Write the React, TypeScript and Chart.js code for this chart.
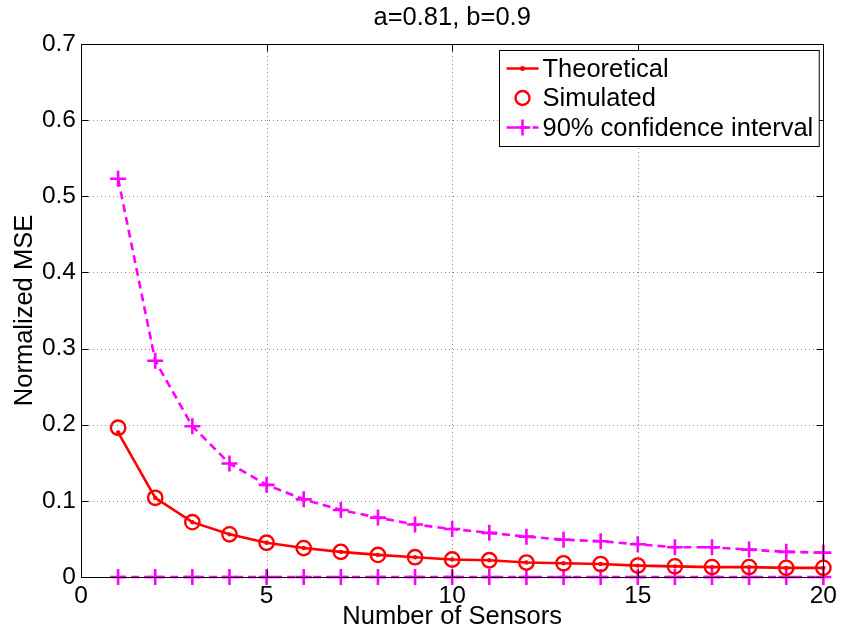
import { useEffect, useRef } from 'react';
import { Chart, registerables } from 'chart.js';

Chart.register(...registerables);

const sensors = [1, 2, 3, 4, 5, 6, 7, 8, 9, 10, 11, 12, 13, 14, 15, 16, 17, 18, 19, 20];
const theoretical = [0.190, 0.104, 0.072, 0.056, 0.045, 0.038, 0.033, 0.029, 0.026, 0.023, 0.022, 0.019, 0.018, 0.017, 0.015, 0.014, 0.013, 0.013, 0.012, 0.012];
const simulated = [0.196, 0.104, 0.072, 0.056, 0.045, 0.038, 0.033, 0.029, 0.026, 0.023, 0.022, 0.019, 0.018, 0.017, 0.015, 0.014, 0.013, 0.013, 0.012, 0.012];
const ciUpper = [0.523, 0.284, 0.198, 0.149, 0.121, 0.102, 0.088, 0.078, 0.069, 0.063, 0.058, 0.053, 0.049, 0.047, 0.043, 0.039, 0.039, 0.036, 0.033, 0.032];
const ciLower = [0, 0, 0, 0, 0, 0, 0, 0, 0, 0, 0, 0, 0, 0, 0, 0, 0, 0, 0, 0];

const xTicks = [0, 5, 10, 15, 20];
const yTicks = [0, 0.1, 0.2, 0.3, 0.4, 0.5, 0.6, 0.7];

const titleText = 'a=0.81, b=0.9';
const xLabel = 'Number of Sensors';
const yLabel = 'Normalized MSE';
const legendLabels = ['Theoretical', 'Simulated', '90% confidence interval'];

const RED = '#ff0000';
const MAGENTA = '#ff00ff';
const FONT_FAMILY = '"Liberation Sans", Arial, Helvetica, sans-serif';
const FS_TICK = 24.5;
const FS = 25.5;

const toPts = (ys: number[]) => sensors.map((x, i) => ({ x, y: ys[i] }));

const drawPlus = (ctx: CanvasRenderingContext2D, x: number, y: number, r: number) => {
  ctx.beginPath();
  ctx.moveTo(x - r, y);
  ctx.lineTo(x + r, y);
  ctx.moveTo(x, y - r);
  ctx.lineTo(x, y + r);
  ctx.stroke();
};

const matlabPlugin = {
  id: 'matlabAxes',
  beforeDatasetsDraw(chart: any) {
    const { ctx, chartArea: a, scales } = chart;
    ctx.save();
    ctx.strokeStyle = '#8c8c8c';
    ctx.lineWidth = 1;
    ctx.setLineDash([1, 3]);
    xTicks.forEach((v) => {
      const px = Math.round(scales.x.getPixelForValue(v)) + 0.5;
      if (px <= a.left + 1 || px >= a.right - 1) return;
      ctx.beginPath();
      ctx.moveTo(px, a.top);
      ctx.lineTo(px, a.bottom);
      ctx.stroke();
    });
    yTicks.forEach((v) => {
      const py = Math.round(scales.y.getPixelForValue(v)) + 0.5;
      if (py <= a.top + 1 || py >= a.bottom - 1) return;
      ctx.beginPath();
      ctx.moveTo(a.left, py);
      ctx.lineTo(a.right, py);
      ctx.stroke();
    });
    ctx.restore();
  },
  afterDraw(chart: any) {
    const { ctx, chartArea: a, scales } = chart;
    ctx.save();
    // frame
    ctx.strokeStyle = '#000';
    ctx.lineWidth = 1;
    ctx.setLineDash([]);
    const L = Math.round(a.left) + 0.5;
    const R = Math.round(a.right) + 0.5;
    const T = Math.round(a.top) + 0.5;
    const B = Math.round(a.bottom) + 0.5;
    ctx.strokeRect(L, T, R - L, B - T);
    const tl = 7;
    xTicks.forEach((v) => {
      const px = Math.round(scales.x.getPixelForValue(v)) + 0.5;
      ctx.beginPath();
      ctx.moveTo(px, B);
      ctx.lineTo(px, B - tl);
      ctx.moveTo(px, T);
      ctx.lineTo(px, T + tl);
      ctx.stroke();
    });
    yTicks.forEach((v) => {
      const py = Math.round(scales.y.getPixelForValue(v)) + 0.5;
      ctx.beginPath();
      ctx.moveTo(L, py);
      ctx.lineTo(L + tl, py);
      ctx.moveTo(R, py);
      ctx.lineTo(R - tl, py);
      ctx.stroke();
    });

    // title
    ctx.fillStyle = '#000';
    ctx.font = `${FS}px ${FONT_FAMILY}`;
    ctx.textAlign = 'center';
    ctx.textBaseline = 'middle';
    ctx.fillText(titleText, (a.left + a.right) / 2, 18);

    // legend
    ctx.textAlign = 'left';
    const widths = legendLabels.map((t) => ctx.measureText(t).width);
    const maxW = Math.max(...widths);
    const boxW = 43 + maxW + 6;
    const boxH = 96;
    const bx = Math.round(a.right - 4.5 - boxW) + 0.5;
    const by = Math.round(a.top + 6) + 0.5;
    ctx.fillStyle = '#fff';
    ctx.fillRect(bx, by, boxW, boxH);
    ctx.strokeStyle = '#000';
    ctx.lineWidth = 1;
    ctx.strokeRect(bx, by, boxW, boxH);
    const sx1 = bx + 7;
    const sx2 = bx + 39;
    const sc = (sx1 + sx2) / 2;
    const tx = bx + 43;
    const rows = [by + 18, by + 47.5, by + 77];
    // row 1
    ctx.strokeStyle = RED;
    ctx.lineWidth = 2.5;
    ctx.beginPath();
    ctx.moveTo(sx1, rows[0]);
    ctx.lineTo(sx2, rows[0]);
    ctx.stroke();
    ctx.fillStyle = RED;
    ctx.beginPath();
    ctx.arc(sc, rows[0], 2.5, 0, Math.PI * 2);
    ctx.fill();
    // row 2
    ctx.lineWidth = 2.4;
    ctx.beginPath();
    ctx.arc(sc, rows[1], 7, 0, Math.PI * 2);
    ctx.stroke();
    // row 3
    ctx.strokeStyle = MAGENTA;
    ctx.lineWidth = 2.5;
    ctx.setLineDash([8, 5]);
    ctx.beginPath();
    ctx.moveTo(sx1, rows[2]);
    ctx.lineTo(sx2, rows[2]);
    ctx.stroke();
    ctx.setLineDash([]);
    drawPlus(ctx, sc, rows[2], 8);
    // text
    ctx.fillStyle = '#000';
    legendLabels.forEach((t, i) => ctx.fillText(t, tx, rows[i] + 1));
    ctx.restore();
  },
};

export default function App() {
  const ref = useRef<HTMLCanvasElement | null>(null);

  useEffect(() => {
    if (!ref.current) return;
    const tickFont = { family: FONT_FAMILY, size: FS_TICK };
    const labelFont = { family: FONT_FAMILY, size: FS };
    const chart = new Chart(ref.current, {
      type: 'line',
      data: {
        datasets: [
          {
            label: legendLabels[2] + ' lower',
            data: toPts(ciLower),
            borderColor: MAGENTA,
            backgroundColor: MAGENTA,
            borderWidth: 2.6,
            borderDash: [8, 5],
            pointStyle: 'cross',
            pointRadius: 8,
            pointBorderWidth: 2.6,
            pointBorderColor: MAGENTA,
            tension: 0,
            fill: false,
            clip: false,
            order: 4,
          } as any,
          {
            label: legendLabels[2],
            data: toPts(ciUpper),
            borderColor: MAGENTA,
            backgroundColor: MAGENTA,
            borderWidth: 2.6,
            borderDash: [8, 5],
            pointStyle: 'cross',
            pointRadius: 8,
            pointBorderWidth: 2.6,
            pointBorderColor: MAGENTA,
            tension: 0,
            fill: false,
            clip: false,
            order: 3,
          } as any,
          {
            label: legendLabels[0],
            data: toPts(theoretical),
            borderColor: RED,
            backgroundColor: RED,
            borderWidth: 2.6,
            pointStyle: 'circle',
            pointRadius: 2.2,
            pointBorderWidth: 0,
            pointBackgroundColor: RED,
            tension: 0,
            fill: false,
            clip: false,
            order: 2,
          } as any,
          {
            label: legendLabels[1],
            data: toPts(simulated),
            showLine: false,
            borderColor: RED,
            backgroundColor: 'rgba(0,0,0,0)',
            pointStyle: 'circle',
            pointRadius: 7.2,
            pointBorderWidth: 2.4,
            pointBorderColor: RED,
            pointBackgroundColor: 'rgba(0,0,0,0)',
            fill: false,
            clip: false,
            order: 1,
          } as any,
        ],
      },
      options: {
        responsive: false,
        animation: false,
        devicePixelRatio: 1,
        layout: { padding: { top: 44, right: 17, left: 0, bottom: 0 } },
        plugins: {
          legend: { display: false },
          title: { display: false },
          tooltip: { enabled: false },
        },
        scales: {
          x: {
            type: 'linear',
            min: 0,
            max: 20,
            afterBuildTicks: (s: any) => {
              s.ticks = xTicks.map((v) => ({ value: v }));
            },
            afterFit: (s: any) => {
              s.height = 55;
            },
            grid: { display: false, drawTicks: false },
            border: { display: false },
            ticks: {
              autoSkip: false,
              maxRotation: 0,
              padding: 5,
              color: '#000',
              font: tickFont,
              callback: (v: any) => String(v),
            },
            title: {
              display: true,
              text: xLabel,
              color: '#000',
              font: labelFont,
              padding: { top: 0, bottom: 0 },
            },
          },
          y: {
            type: 'linear',
            min: 0,
            max: 0.7,
            afterBuildTicks: (s: any) => {
              s.ticks = yTicks.map((v) => ({ value: v }));
            },
            afterFit: (s: any) => {
              s.width = 81;
            },
            grid: { display: false, drawTicks: false },
            border: { display: false },
            ticks: {
              autoSkip: false,
              padding: 5,
              color: '#000',
              font: tickFont,
              callback: (v: any) => String(Math.round(v * 10) / 10),
            },
            title: {
              display: true,
              text: yLabel,
              color: '#000',
              font: labelFont,
              padding: { top: 10, bottom: 0 },
            },
          },
        },
      },
      plugins: [matlabPlugin],
    });
    return () => chart.destroy();
  }, []);

  return (
    <div style={{ position: 'absolute', left: 0, top: 0, width: 842, height: 632, background: '#fff' }}>
      <canvas ref={ref} width={842} height={632} style={{ width: 842, height: 632, display: 'block' }} />
    </div>
  );
}
